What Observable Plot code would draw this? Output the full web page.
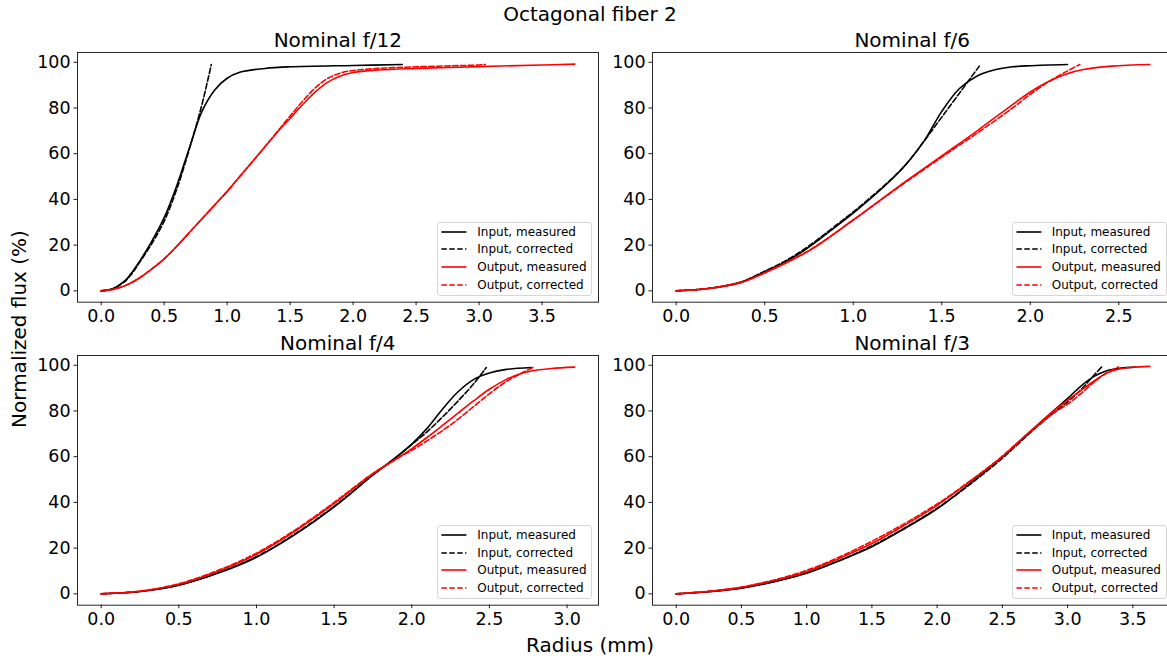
<!DOCTYPE html>
<html><head><meta charset="utf-8">
<script src="https://cdn.jsdelivr.net/npm/d3@7"></script>
<script src="https://cdn.jsdelivr.net/npm/@observablehq/plot@0.6"></script>
<style>
html,body{margin:0;padding:0;background:#fff;overflow:hidden;width:1167px;height:659px;}
body{position:relative;font-family:"DejaVu Sans",sans-serif;color:#000;}
.txt{position:absolute;white-space:nowrap;color:#000;transform:translate(-50%,-50%);line-height:1;}
.legend{position:absolute;background:rgba(255,255,255,0.8);border:1px solid #d6d6d6;border-radius:3px;box-sizing:border-box;font-size:12px;}
.legend .row{position:absolute;left:0;height:16px;white-space:nowrap;}
</style></head><body>
<script>
// ---------- DATA ----------
const figTitle = "Octagonal fiber 2";
const panelTitles = ["Nominal f/12", "Nominal f/6", "Nominal f/4", "Nominal f/3"];
const seriesNames = ["Input, measured", "Input, corrected", "Output, measured", "Output, corrected"];
const yTicks = [0, 20, 40, 60, 80, 100];
const xTicks12 = [0, 0.5, 1, 1.5, 2, 2.5, 3, 3.5];
const xTicks6 = [0, 0.5, 1, 1.5, 2, 2.5];
const xTicks4 = [0, 0.5, 1, 1.5, 2, 2.5, 3];
const xTicks3 = [0, 0.5, 1, 1.5, 2, 2.5, 3, 3.5];

// f/12
const f12InMeasR = [0,0.05,0.1,0.15,0.2,0.25,0.3,0.4,0.5,0.6,0.7,0.8,0.9,1.0,1.1,1.3,1.5,2.0,2.39];
const f12InMeasF = [0,0.3,1.1,2.8,5,8.5,12.5,21.5,32,46,62.5,78.5,87.8,93,95.6,97.3,98,98.6,99];
const f12InCorrR = [0,0.05,0.1,0.15,0.2,0.25,0.3,0.4,0.5,0.6,0.7,0.8,0.874];
const f12InCorrF = [0,0.3,1,2.6,4.7,8,12,20.5,30.5,44.5,62,81.5,99];
const f12OutMeasR = [0,0.1,0.2,0.3,0.4,0.5,0.6,0.7,0.8,0.9,1.0,1.1,1.2,1.3,1.4,1.5,1.6,1.7,1.8,1.9,2.0,2.2,2.5,3.0,3.5,3.76];
const f12OutMeasF = [0,0.7,2.5,5.5,9.5,14,19.5,25.5,31.5,37.5,43.5,50,56.5,63,69.5,75.5,81.5,87,91.3,94,95.5,96.6,97.3,98.1,98.8,99.2];
const f12OutCorrR = [0,0.1,0.2,0.3,0.4,0.5,0.6,0.7,0.8,0.9,1.0,1.1,1.2,1.3,1.4,1.5,1.6,1.7,1.8,1.9,2.0,2.2,2.5,3.0,3.05];
const f12OutCorrF = [0,0.7,2.5,5.5,9.5,14,19.5,25.5,31.5,37.5,43.5,50,56.5,63,69.8,76.5,83,88.8,93,95.3,96.4,97.3,98,98.8,99];

// f/6
const f6InMeasR = [0,0.18,0.37,0.5,0.6,0.7,0.8,0.9,1.0,1.1,1.2,1.3,1.4,1.5,1.6,1.7,1.8,1.9,2.0,2.21];
const f6InMeasF = [0,1,3.9,8.3,12,16.5,22,28,34,40.5,47.5,55.5,65.5,78.5,88.5,94,96.7,98,98.5,99];
const f6InCorrR = [0,0.18,0.37,0.5,0.6,0.7,0.8,0.9,1.0,1.1,1.2,1.3,1.4,1.5,1.6,1.712];
const f6InCorrF = [0,1,4,8.6,12.4,17,22.5,28.5,34.5,41,47.8,55.5,65.5,76,86.5,98.3];
const f6OutMeasR = [0,0.18,0.37,0.5,0.75,1.0,1.25,1.5,1.7,1.9,2.0,2.1,2.2,2.3,2.46,2.675];
const f6OutMeasF = [0,1,3.7,7.8,17.5,31,45.3,59,70,81.5,87,91.5,94.8,96.8,98.3,99];
const f6OutCorrR = [0,0.18,0.37,0.5,0.75,1.0,1.25,1.5,1.7,1.9,2.0,2.1,2.2,2.28];
const f6OutCorrF = [0,1,3.8,8,17.7,31,45,58.5,69,80,86,91.3,95.8,99];

// f/4
const f4InMeasR = [0,0.25,0.5,0.75,1.0,1.25,1.5,1.75,1.9,2.0,2.1,2.2,2.3,2.4,2.5,2.6,2.77];
const f4InMeasF = [0,1,3.8,9,16,26,38,52,59.8,65.5,72.5,81,88.5,93.8,96.6,98.1,99];
const f4InCorrR = [0,0.25,0.5,0.75,1.0,1.25,1.5,1.75,1.9,2.0,2.1,2.2,2.3,2.4,2.48];
const f4InCorrF = [0,1,3.9,9.2,16.3,26.3,38.3,52,59.8,65.3,71,77.5,84.5,92,99];
const f4OutMeasR = [0,0.25,0.5,0.75,1.0,1.25,1.5,1.75,1.9,2.0,2.1,2.2,2.3,2.4,2.5,2.6,2.7,2.8,2.9,3.05];
const f4OutMeasF = [0,1.1,4.2,9.8,17.3,27.5,39.5,52.5,59,63.5,68.5,73.8,79.2,84.5,89.5,93.5,96.3,97.8,98.6,99.2];
const f4OutCorrR = [0,0.25,0.5,0.75,1.0,1.25,1.5,1.75,1.9,2.0,2.1,2.2,2.3,2.4,2.5,2.6,2.7,2.78];
const f4OutCorrF = [0,1.2,4.4,10.2,17.8,28,40,52.7,59,62.8,67,71.5,76.5,82,87.5,92.5,96.3,99];

// f/3
const f3InMeasR = [0,0.25,0.5,0.75,1.0,1.25,1.5,1.75,2.0,2.25,2.5,2.6,2.7,2.8,2.9,3.0,3.1,3.2,3.3,3.4,3.52];
const f3InMeasF = [0,0.9,2.5,5.3,9,14.5,20.6,28.5,37.2,48.2,59.8,65,70.2,75.4,80.5,85.5,90.8,95,97.6,98.7,99.2];
const f3InCorrR = [0,0.5,1.0,1.5,2.0,2.25,2.5,2.6,2.7,2.8,2.9,3.0,3.1,3.2,3.26];
const f3InCorrF = [0,2.6,9.3,21,37.5,47.8,59.3,64.5,69.8,74.8,79.5,84,89.2,95.5,99.2];
const f3OutMeasR = [0,0.25,0.5,0.75,1.0,1.25,1.5,1.75,2.0,2.25,2.5,2.6,2.7,2.8,2.9,3.0,3.1,3.2,3.3,3.4,3.5,3.63];
const f3OutMeasF = [0,1,2.8,5.8,9.7,15.5,22,30,38.7,49,60,65.2,70.4,75.5,80.4,84.7,88.9,93,96.6,98.4,99.1,99.5];
const f3OutCorrR = [0,0.5,1.0,1.5,2.0,2.25,2.5,2.6,2.7,2.8,2.9,3.0,3.1,3.2,3.3,3.39];
const f3OutCorrF = [0,3,10.3,23,39.3,49.3,60.2,65.3,70.3,75,79.3,83,87.5,92.5,96.6,99.2];

// ---------- BUILD ----------
const styles = [
  {stroke:"#000000", dash:null},
  {stroke:"#000000", dash:"5.5,2.4"},
  {stroke:"#ff0000", dash:null},
  {stroke:"#ff0000", dash:"5.5,2.4"}
];
const toRows = (r, f) => r.map((x, i) => ({x, y: f[i]}));
const panelData = [
  {ticks:xTicks12, s:[[f12InMeasR,f12InMeasF],[f12InCorrR,f12InCorrF],[f12OutMeasR,f12OutMeasF],[f12OutCorrR,f12OutCorrF]]},
  {ticks:xTicks6, s:[[f6InMeasR,f6InMeasF],[f6InCorrR,f6InCorrF],[f6OutMeasR,f6OutMeasF],[f6OutCorrR,f6OutCorrF]]},
  {ticks:xTicks4, s:[[f4InMeasR,f4InMeasF],[f4InCorrR,f4InCorrF],[f4OutMeasR,f4OutMeasF],[f4OutCorrR,f4OutCorrF]]},
  {ticks:xTicks3, s:[[f3InMeasR,f3InMeasF],[f3InCorrR,f3InCorrF],[f3OutMeasR,f3OutMeasF],[f3OutCorrR,f3OutCorrF]]}
];
const frames = [
  {left:77.3, top:52},
  {left:651.7, top:52},
  {left:77.3, top:355.4},
  {left:651.7, top:355.4}
];
const FW = 521, FH = 249.7;
const mL = 60, mR = 8, mT = 8, mB = 40;

function addText(str, x, y, size, rot) {
  const d = document.createElement("div");
  d.className = "txt";
  d.textContent = str;
  d.style.left = x + "px"; d.style.top = y + "px";
  d.style.fontSize = size + "px";
  if (rot) d.style.transform = "translate(-50%,-50%) rotate(" + rot + "deg)";
  document.body.appendChild(d);
}

panelData.forEach((p, k) => {
  const fr = frames[k];
  const rows = p.s.map(([r, f]) => toRows(r, f));
  const xmax = d3.max(rows.flat(), d => d.x);
  const ymax = 99.3;
  const ymin = 0;
  const yr = ymax - ymin;
  const marks = [
    Plot.axisX({ticks:p.ticks, tickFormat:d3.format(".1f"), tickSize:3.5, tickPadding:3.5, label:null, strokeWidth:0.9}),
    Plot.axisY({ticks:yTicks, tickFormat:d3.format("d"), tickSize:3.5, tickPadding:3.5, label:null, strokeWidth:0.9})
  ];
  rows.forEach((data, i) => {
    const o = {x:"x", y:"y", stroke:styles[i].stroke, strokeWidth:1.6, curve:"catmull-rom"};
    if (styles[i].dash) o.strokeDasharray = styles[i].dash;
    marks.push(Plot.line(data, o));
  });
  marks.push(Plot.frame({stroke:"#000", strokeWidth:1, strokeOpacity:0.85}));
  const svg = Plot.plot({
    width: mL + FW + mR, height: mT + FH + mB,
    marginLeft:mL, marginRight:mR, marginTop:mT, marginBottom:mB,
    x:{domain:[-0.05*xmax, 1.05*xmax]},
    y:{domain:[ymin - 0.05*yr, ymax + 0.05*yr]},
    style:{fontFamily:'"DejaVu Sans", sans-serif', fontSize:"17.5px", color:"#000", background:"transparent", overflow:"visible"},
    marks
  });
  svg.style.position = "absolute";
  svg.style.left = (fr.left - mL) + "px";
  svg.style.top = (fr.top - mT) + "px";
  document.body.appendChild(svg);

  addText(panelTitles[k], fr.left + FW/2, fr.top - 12.5, 20);

  // legend
  const LW = 155, LH = 74.3;
  const lg = document.createElement("div");
  lg.className = "legend";
  lg.style.width = LW + "px"; lg.style.height = LH + "px";
  lg.style.left = (fr.left + FW - 6 - LW) + "px";
  lg.style.top = (fr.top + FH - 5.7 - LH) + "px";
  seriesNames.forEach((name, i) => {
    const row = document.createElement("div");
    row.className = "row";
    const cy = 9 + 17.65*i;
    row.style.top = (cy - 8) + "px";
    const dash = styles[i].dash ? ` stroke-dasharray="${styles[i].dash}"` : "";
    row.innerHTML = `<svg width="34" height="16" style="position:absolute;left:0;top:0"><line x1="3.4" x2="28.4" y1="8" y2="8" stroke="${styles[i].stroke}" stroke-width="1.6"${dash}/></svg><span style="position:absolute;left:39px;top:1px;line-height:14px;">${name}</span>`;
    lg.appendChild(row);
  });
  document.body.appendChild(lg);
});

addText(figTitle, 590, 13.5, 20);
addText("Normalized flux (%)", 19, 328.5, 20, -90);
addText("Radius (mm)", 590, 645, 20);
</script>
</body></html>
